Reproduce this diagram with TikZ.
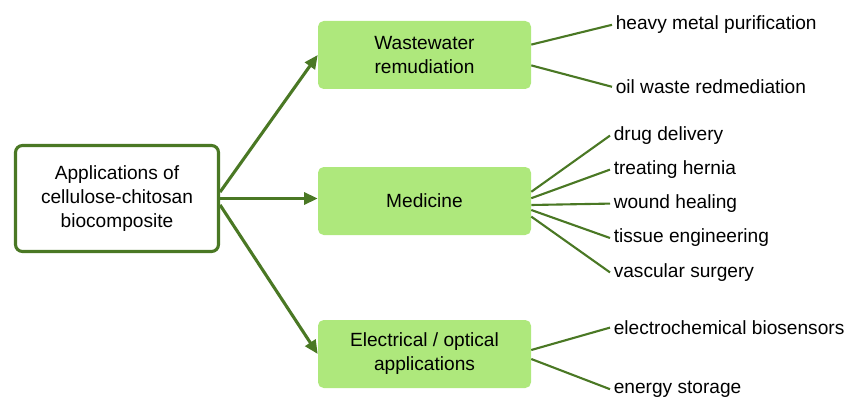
\documentclass[tikz,border=0pt]{standalone}
\usepackage{fontspec}
\setmainfont{Liberation Sans}
\usetikzlibrary{arrows.meta}
\definecolor{boxgreen}{RGB}{174,232,124}
\definecolor{linegreen}{RGB}{74,120,36}
\begin{document}
\begin{tikzpicture}[
  every node/.style={font=\fontsize{13.6}{17}\selectfont},
  rootbox/.style={draw=linegreen, line width=2.2pt, rounded corners=5pt, fill=white,
    minimum width=5.075cm, minimum height=2.65cm, align=center},
  areabox/.style={fill=boxgreen, rounded corners=4pt,
    minimum width=5.325cm, minimum height=1.7cm, align=center},
  leaf/.style={anchor=west, inner sep=2.5pt},
  arr/.style={linegreen, line width=2.2pt, -{Triangle[length=0.34cm,width=0.3cm]}},
  twig/.style={linegreen, line width=1.5pt}
]
\useasboundingbox (0,0) rectangle (21.125,9.95);
% main node and the three fields
\node[rootbox] (root) at (2.925,4.9875) {Applications of\\cellulose-chitosan\\biocomposite};
\node[areabox] (waste) at (10.6125,8.575) {Wastewater\\remudiation};
\node[areabox] (med) at (10.6125,4.925) {Medicine};
\node[areabox] (elec) at (10.6125,1.1) {Electrical / optical\\applications};
\draw[arr] ([yshift=0.16cm]root.east) -- (waste.west);
\draw[arr] (root.east) -- (root.east -| med.west);
\draw[arr] ([yshift=-0.16cm]root.east) -- (elec.west);
% wastewater
\node[leaf] (heavy) at (15.3,9.33) {heavy metal purification};
\node[leaf] (oil) at (15.3,7.78) {oil waste redmediation};
\draw[twig] ([yshift=0.26cm]waste.east) -- (heavy.west);
\draw[twig] ([yshift=-0.26cm]waste.east) -- (oil.west);
% medicine
\node[leaf] (drug) at (15.25,6.56) {drug delivery};
\node[leaf] (hernia) at (15.25,5.71) {treating hernia};
\node[leaf] (wound) at (15.25,4.86) {wound healing};
\node[leaf] (tissue) at (15.25,4.0) {tissue engineering};
\node[leaf] (vasc) at (15.25,3.14) {vascular surgery};
\draw[twig] ([yshift=0.23cm]med.east) -- (drug.west);
\draw[twig] ([yshift=0.07cm]med.east) -- (hernia.west);
\draw[twig] ([yshift=-0.1cm]med.east) -- (wound.west);
\draw[twig] ([yshift=-0.225cm]med.east) -- (tissue.west);
\draw[twig] ([yshift=-0.39cm]med.east) -- (vasc.west);
% electrical / optical
\node[leaf] (sensor) at (15.25,1.76) {electrochemical biosensors};
\node[leaf] (energy) at (15.25,0.22) {energy storage};
\draw[twig] ([yshift=0.1cm]elec.east) -- (sensor.west);
\draw[twig] ([yshift=-0.125cm]elec.east) -- (energy.west);
\end{tikzpicture}
\end{document}
